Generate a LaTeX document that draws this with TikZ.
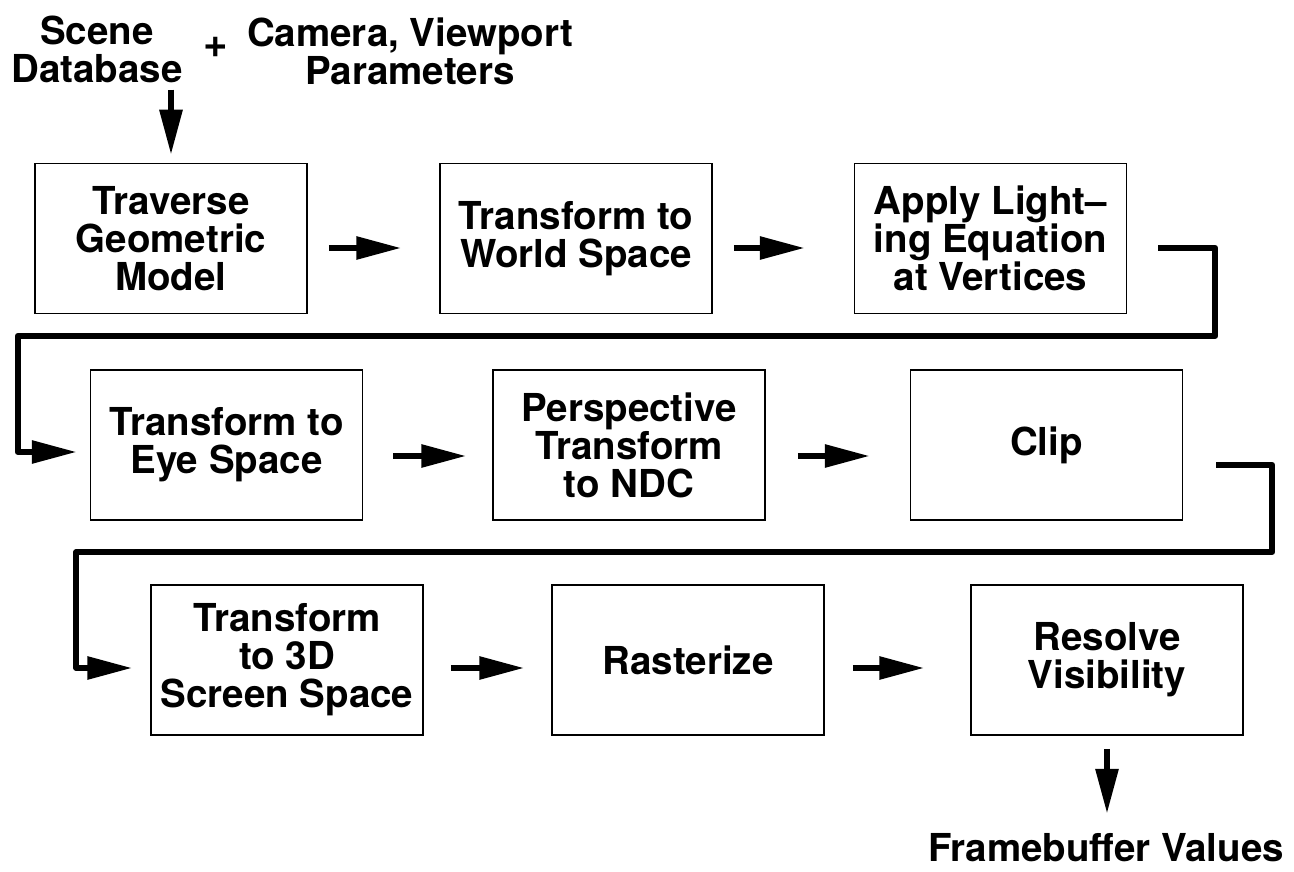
\documentclass[tikz,border=0pt]{standalone}
\usepackage{fontspec}
\setmainfont{TeX Gyre Heros}
\usetikzlibrary{arrows.meta,calc}
\tikzset{
  stagebox/.style={draw, line width=1.5pt, minimum width=272pt, minimum height=150pt,
    align=center, inner sep=0pt},
  lbl/.style={align=center, inner sep=0pt},
  arr/.style={line width=6pt, -{Triangle[length=45pt,width=22pt]}},
  conn/.style={line width=6pt, line join=round, -{Triangle[length=45pt,width=22pt]}},
}
\begin{document}
\begin{tikzpicture}[x=1pt,y=-1pt,font=\fontsize{38.5}{38}\selectfont\bfseries]
\useasboundingbox (0,0) rectangle (1294,872);
% top labels
\node[lbl] (scene) at (97,49) {Scene\\Database};
\node[lbl, font=\fontsize{42}{42}\selectfont\bfseries] (plus) at (216,47) {+};
\node[lbl] (cam) at (410,51) {Camera, Viewport\\Parameters};
% stages
\node[stagebox] (b1) at (171,238.5) {Traverse\\Geometric\\Model};
\node[stagebox] (b2) at (576,238.5) {Transform to\\World Space};
\node[stagebox] (b3) at (990.5,238.5) {Apply Light–\\ing Equation\\at Vertices};
\node[stagebox] (b4) at (226.5,445) {Transform to\\Eye Space};
\node[stagebox] (b5) at (629,445) {Perspective\\Transform\\to NDC};
\node[stagebox] (b6) at (1046.5,445) {Clip};
\node[stagebox] (b7) at (287,660) {Transform\\to 3D\hspace*{24pt}\\Screen Space};
\node[stagebox] (b8) at (688,660) {Rasterize};
\node[stagebox] (b9) at (1107,660) {Resolve\\Visibility};
\node[lbl] (fb) at (1106,848) {Framebuffer Values};
% input / output arrows
\draw[arr, shorten >=8pt] ([yshift=73pt]b1.north) -- (b1.north);
\draw[arr, shorten <=13pt] (b9.south) -- ([yshift=-78pt]b9.south);
% row arrows
\draw[arr, shorten <=21pt, shorten >=38pt] ([yshift=-9.5pt]b1.east) -- ([yshift=-9.5pt]b2.west);
\draw[arr, shorten <=21pt, shorten >=49pt] ([yshift=-9.5pt]b2.east) -- ([yshift=-9.5pt]b3.west);
\draw[arr, shorten <=30pt, shorten >=26pt] ([yshift=-11pt]b4.east) -- ([yshift=-11pt]b5.west);
\draw[arr, shorten <=32pt, shorten >=40pt] ([yshift=-11pt]b5.east) -- ([yshift=-11pt]b6.west);
\draw[arr, shorten <=27pt, shorten >=27pt] ([yshift=-8pt]b7.east) -- ([yshift=-8pt]b8.west);
\draw[arr, shorten <=28pt, shorten >=46pt] ([yshift=-8pt]b8.east) -- ([yshift=-8pt]b9.west);
% wrap-around connectors
\draw[conn] ($(b3.east)+(31,9.5)$) -- ++(57,0) -- ++(0,88) -| ($(b4.west)+(-72,7)$) -- ($(b4.west)+(-13,7)$);
\draw[conn] ($(b6.east)+(33,20)$) -- ++(56,0) -- ++(0,87) -| ($(b7.west)+(-74,8)$) -- ($(b7.west)+(-18,8)$);
\end{tikzpicture}
\end{document}
